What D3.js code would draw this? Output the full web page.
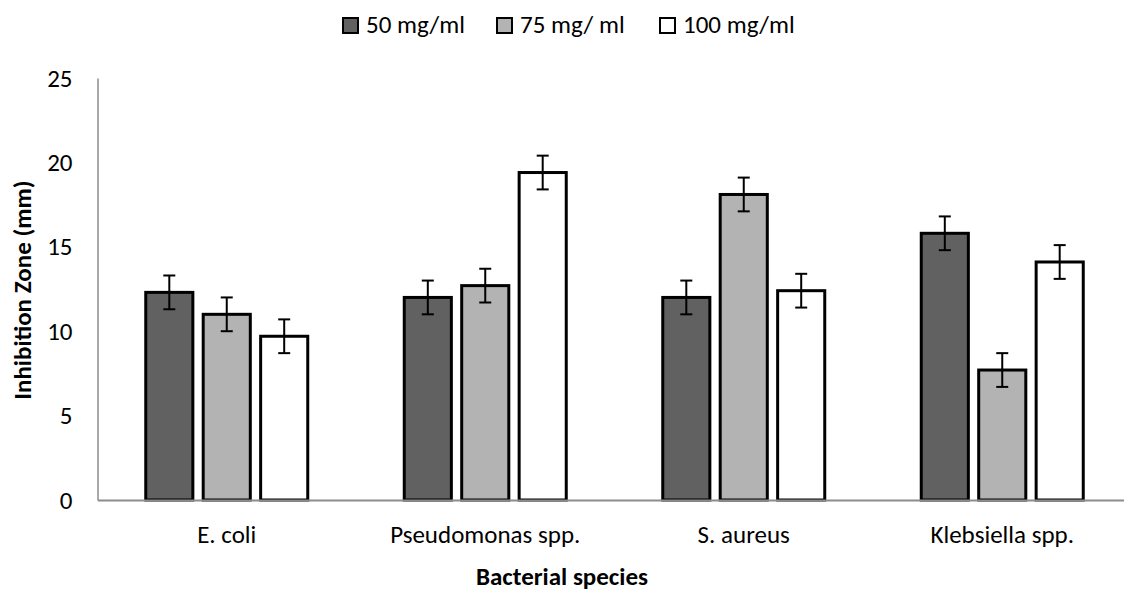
<!DOCTYPE html>
<html>
<head>
<meta charset="utf-8">
<script src="https://cdn.jsdelivr.net/npm/d3@7"></script>
<style>
  body { margin: 0; background: #fff; }
  text { font-family: Carlito, "Open Sans", sans-serif; fill: #000; }
</style>
</head>
<body>
<svg id="chart" width="1124" height="594"></svg>
<script>
// categories and series
const species = ["E. coli", "Pseudomonas spp.", "S. aureus", "Klebsiella spp."];
const doses = ["50 mg/ml", "75 mg/ ml", "100 mg/ml"];
const doseColors = ["#616161", "#b3b3b3", "#ffffff"];

// inhibition zone (mm), one array per dose
const zone50 = [12.3, 12.0, 12.0, 15.8];
const zone75 = [11.0, 12.7, 18.1, 7.7];
const zone100 = [9.7, 19.4, 12.4, 14.1];
// error bar half widths
const err50 = [1, 1, 1, 1];
const err75 = [1, 1, 1, 1];
const err100 = [1, 1, 1, 1];

const yTicks = [0, 5, 10, 15, 20, 25];

const values = [zone50, zone75, zone100];
const errors = [err50, err75, err100];

const rows = [];
species.forEach((s, i) => {
  doses.forEach((d, j) => {
    rows.push({ species: s, dose: d, value: values[j][i], err: errors[j][i], color: doseColors[j] });
  });
});

const svg = d3.select("#chart");
const plotLeft = 97.5, plotBottom = 500, plotTop = 78;
const bandW = 258.5;

const x0 = d3.scaleBand().domain(species).range([plotLeft, plotLeft + bandW * species.length]).padding(0);
const groupW = 162;
const x1 = d3.scaleBand().domain(doses).range([0, groupW]).paddingInner(0.18).paddingOuter(0);
const y = d3.scaleLinear().domain([0, 25]).range([plotBottom, plotTop]);

// y axis
const yAxis = svg.append("g")
  .attr("transform", `translate(${plotLeft},0)`)
  .call(d3.axisLeft(y).tickValues(yTicks).tickSize(0).tickPadding(25));
yAxis.select(".domain").attr("stroke", "#8c8c8c").attr("stroke-width", 1.5);
yAxis.selectAll("text").style("font-size", "25px");

// bars
const offset = (x0.bandwidth() - groupW) / 2;
svg.append("g").selectAll("rect")
  .data(rows)
  .enter()
  .append("rect")
  .attr("x", d => x0(d.species) + offset + x1(d.dose))
  .attr("y", d => y(d.value))
  .attr("width", x1.bandwidth())
  .attr("height", d => plotBottom - y(d.value))
  .attr("fill", d => d.color)
  .attr("stroke", "#000")
  .attr("stroke-width", 3);

// x axis line (drawn over bar bottoms)
const xAxis = svg.append("g")
  .attr("transform", `translate(0,${plotBottom})`)
  .call(d3.axisBottom(x0).tickSize(0).tickPadding(25));
xAxis.select(".domain").attr("stroke", "#8c8c8c").attr("stroke-width", 2);
xAxis.selectAll("text").style("font-size", "25px");

// error bars
const eb = svg.append("g").attr("stroke", "#000").attr("stroke-width", 2);
rows.forEach(d => {
  const cx = x0(d.species) + offset + x1(d.dose) + x1.bandwidth() / 2;
  const y1 = y(d.value + d.err), y2 = y(d.value - d.err);
  eb.append("line").attr("x1", cx).attr("x2", cx).attr("y1", y1).attr("y2", y2);
  eb.append("line").attr("x1", cx - 6).attr("x2", cx + 6).attr("y1", y1).attr("y2", y1);
  eb.append("line").attr("x1", cx - 6).attr("x2", cx + 6).attr("y1", y2).attr("y2", y2);
});

// axis titles
svg.append("text")
  .attr("transform", "translate(31,290) rotate(-90)")
  .attr("text-anchor", "middle")
  .style("font-size", "25px")
  .style("font-weight", "bold")
  .text("Inhibition Zone (mm)");

svg.append("text")
  .attr("x", 562)
  .attr("y", 585)
  .attr("text-anchor", "middle")
  .style("font-size", "25px")
  .style("font-weight", "bold")
  .text("Bacterial species");

// legend
const legendX = [343, 497, 660];
const legend = svg.append("g");
doses.forEach((d, i) => {
  const g = legend.append("g").attr("transform", `translate(${legendX[i]},18)`);
  g.append("rect").attr("width", 15).attr("height", 15)
    .attr("fill", doseColors[i]).attr("stroke", "#000").attr("stroke-width", 2);
  g.append("text").attr("x", 23).attr("y", 15).style("font-size", "25px").text(d);
});
</script>
</body>
</html>
